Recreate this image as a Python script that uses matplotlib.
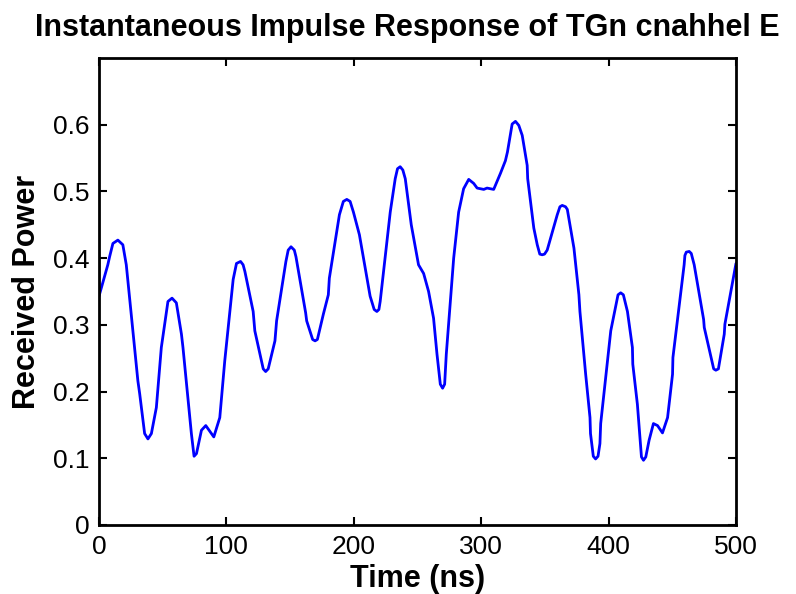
import numpy as np
import matplotlib.pyplot as plt

plt.rcParams["font.family"] = ["Liberation Sans", "DejaVu Sans"]

# --- DATA ---
time_ns = [
    0, 6.9, 8.3, 10.9, 14.8, 18.7, 21.4, 24.0, 30.5, 31.9, 35.8, 38.4, 41.1, 45.0,
    48.9, 54.1, 57.3, 60.7, 64.7, 65.9, 72.5, 74.6, 76.5, 80.4, 83.8, 90.1, 94.8,
    98.7, 105.3, 107.9, 111.1, 113.1, 114.5, 121.0, 122.3, 128.9, 130.8, 132.8,
    138.1, 139.4, 146.7, 148.5, 150.7, 153.3, 154.6, 162.2, 163.0, 167.7, 169.6,
    171.4, 176.1, 180.0, 180.8, 186.6, 188.7, 191.8, 194.5, 197.1, 199.7, 204.4,
    212.8, 216.0, 218.1, 219.7, 220.7, 228.6, 232.5, 234.3, 236.4, 238.5, 240.4,
    245.1, 250.8, 254.8, 258.7, 262.6, 265.3, 267.9, 269.7, 271.3, 272.6, 278.4,
    282.3, 286.2, 290.2, 294.1, 296.8, 302.0, 304.6, 309.8, 315.1, 319.0, 320.6,
    324.3, 326.9, 329.5, 332.2, 336.1, 336.5, 341.3, 344.0, 346.0, 347.9, 349.7,
    351.8, 359.7, 361.8, 363.6, 366.2, 367.6, 372.8, 376.7, 377.5, 382.0, 385.4,
    385.8, 388.0, 389.8, 391.7, 393.2, 393.8, 400.3, 401.7, 407.4, 409.5, 411.6,
    414.8, 418.7, 419.0, 422.6, 425.8, 427.4, 429.2, 431.8, 435.2, 438.4, 442.3,
    446.3, 450.2, 450.5, 459.3, 459.9, 461.0, 463.3, 464.9, 467.2, 474.6, 475.1,
    482.5, 484.2, 486.2, 490.8, 491.3, 500,
]
power = [
    0.343, 0.390, 0.402, 0.422, 0.427, 0.420, 0.390, 0.340, 0.216, 0.197, 0.137,
    0.129, 0.137, 0.176, 0.266, 0.335, 0.340, 0.333, 0.286, 0.266, 0.137, 0.103,
    0.107, 0.142, 0.149, 0.132, 0.161, 0.246, 0.368, 0.392, 0.395, 0.390, 0.380,
    0.320, 0.291, 0.234, 0.230, 0.234, 0.276, 0.306, 0.395, 0.412, 0.417, 0.412,
    0.402, 0.318, 0.306, 0.278, 0.276, 0.278, 0.316, 0.345, 0.370, 0.440, 0.465,
    0.485, 0.488, 0.485, 0.469, 0.435, 0.343, 0.323, 0.320, 0.323, 0.335, 0.469,
    0.519, 0.534, 0.537, 0.532, 0.519, 0.450, 0.390, 0.377, 0.350, 0.310, 0.256,
    0.211, 0.205, 0.211, 0.256, 0.400, 0.469, 0.504, 0.518, 0.512, 0.505, 0.503,
    0.505, 0.503, 0.527, 0.546, 0.559, 0.601, 0.605, 0.599, 0.584, 0.539, 0.519,
    0.445, 0.420, 0.406, 0.405, 0.406, 0.412, 0.465, 0.477, 0.479, 0.477, 0.473,
    0.415, 0.345, 0.320, 0.226, 0.161, 0.137, 0.103, 0.099, 0.103, 0.122, 0.152,
    0.266, 0.291, 0.345, 0.348, 0.345, 0.320, 0.266, 0.241, 0.181, 0.102, 0.097,
    0.102, 0.127, 0.152, 0.149, 0.138, 0.161, 0.226, 0.251, 0.390, 0.404, 0.409,
    0.410, 0.407, 0.390, 0.308, 0.296, 0.234, 0.232, 0.234, 0.286, 0.301, 0.392,
]
x_ticks = [0, 100, 200, 300, 400, 500]
y_ticks = [0, 0.1, 0.2, 0.3, 0.4, 0.5, 0.6]
y_tick_labels = ["0", "0.1", "0.2", "0.3", "0.4", "0.5", "0.6"]

# --- PLOT ---
fig = plt.figure(figsize=(7.96, 5.94), dpi=100)
ax = fig.add_axes([0.1244, 0.1162, 0.8002, 0.7862])

ax.plot(time_ns, power, color="#0000ff", linewidth=2.0,
        solid_joinstyle="round", solid_capstyle="round")

ax.set_xlim(0, 500)
ax.set_ylim(0, 0.7)
ax.set_xticks(x_ticks)
ax.set_yticks(y_ticks)
ax.set_yticklabels(y_tick_labels)
ax.tick_params(direction="in", length=6, width=1.5, labelsize=19,
               top=True, right=True, pad=7)

for spine in ax.spines.values():
    spine.set_linewidth(2)

# title sits slightly left of the axes centre in the original
ax.set_title("Instantaneous Impulse Response of TGn cnahhel E",
             fontsize=22, fontweight="bold", pad=16, x=0.484)
ax.set_xlabel("Time (ns)", fontsize=22, fontweight="bold", labelpad=4)
ax.set_ylabel("Received Power", fontsize=22, fontweight="bold", labelpad=8)

fig.savefig("out.png", dpi=100)
